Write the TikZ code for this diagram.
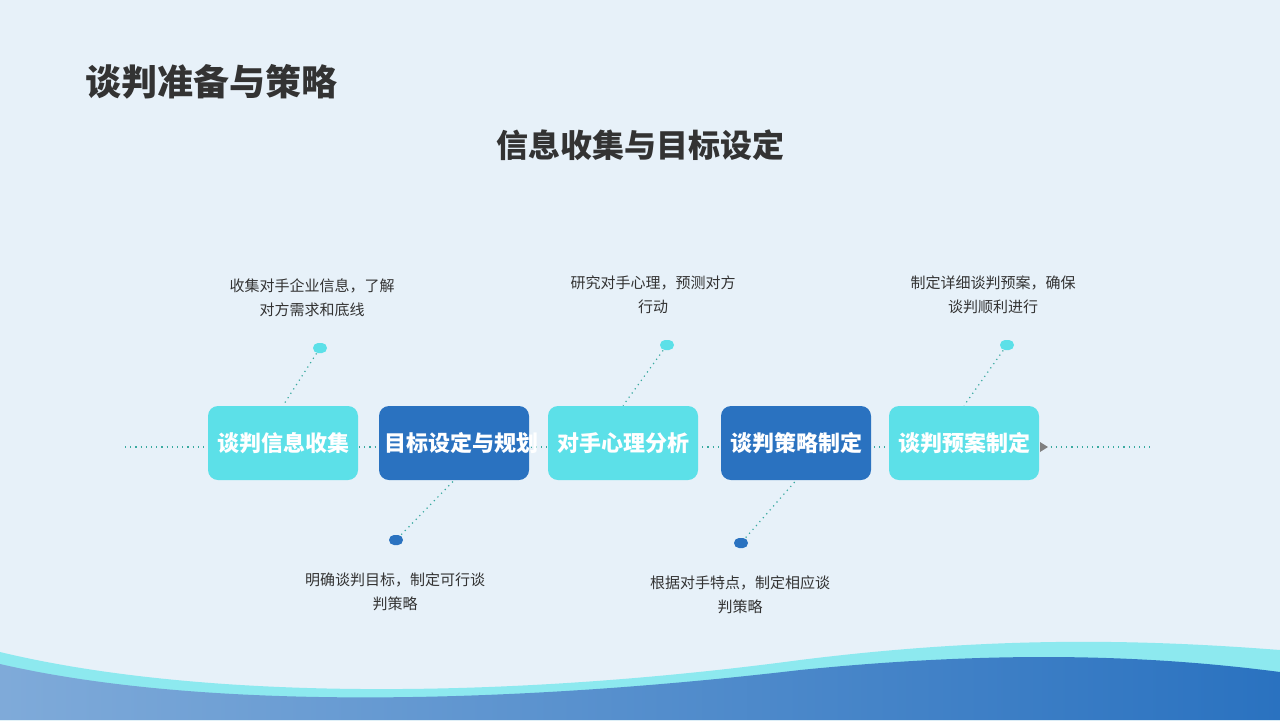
\documentclass[tikz,border=0pt]{standalone}
\usepackage{fontspec}
\newfontfamily\cjk{Noto Sans CJK SC}
\usetikzlibrary{arrows.meta}
\definecolor{bg}{HTML}{E7F1F9}
\definecolor{cyanb}{HTML}{5CE0E8}
\definecolor{blueb}{HTML}{2A72C0}
\definecolor{dotc}{HTML}{3AAAA0}
\definecolor{txt}{HTML}{333333}
\tikzset{
 box/.style={rounded corners=5pt,minimum width=75pt,minimum height=37pt,text width=70pt,align=center,font=\cjk\bfseries\fontsize{11}{12}\selectfont,text=white,inner sep=1pt},
 pill/.style={rounded corners=2.5pt,minimum width=7pt,minimum height=5pt,inner sep=0pt},
 desc/.style={font=\cjk\fontsize{7.5}{12}\selectfont,text=txt,align=center},
 dl/.style={dotted,draw=dotc,line width=0.6pt}
}
\begin{document}
\begin{tikzpicture}[x=0.5pt,y=-0.5pt]
\fill[bg] (0,0) rectangle (1280,720);
\useasboundingbox (0,0) rectangle (1280,720);
% waves
\fill[cyanb!70!white] (0,652) .. controls (200,700) and (500,700) .. (800,660) .. controls (1000,635) and (1150,640) .. (1280,650) -- (1280,720) -- (0,720) -- cycle;
\shade[left color=blueb!60!white,right color=blueb] (0,664) .. controls (200,710) and (500,705) .. (800,670) .. controls (1000,650) and (1150,655) .. (1280,672) -- (1280,720) -- (0,720) -- cycle;
% titles
\node[anchor=west,font=\cjk\bfseries\fontsize{18}{20}\selectfont,text=txt] (t) at (78,82) {谈判准备与策略};
\node[font=\cjk\bfseries\fontsize{16}{18}\selectfont,text=txt] (st) at (640,145) {信息收集与目标设定};
% axis
\coordinate (l0) at (125,447);
\coordinate (l1) at (1150,447);
\draw[dl] (l0) -- (l1);
\fill[gray] (1040,442) -- (1048,447) -- (1040,452) -- cycle;
% boxes
\node[box,fill=cyanb] (b1) at (283,443) {谈判信息收集};
\node[box,fill=blueb] (b2) at (454,443) {目标设定与规划};
\node[box,fill=cyanb] (b3) at (623,443) {对手心理分析};
\node[box,fill=blueb] (b4) at (796,443) {谈判策略制定};
\node[box,fill=cyanb] (b5) at (964,443) {谈判预案制定};
% pills
\node[pill,fill=cyanb] (p1) at (320,348) {};
\node[pill,fill=blueb] (p2) at (396,540) {};
\node[pill,fill=cyanb] (p3) at (667,345) {};
\node[pill,fill=blueb] (p4) at (741,543) {};
\node[pill,fill=cyanb] (p5) at (1007,345) {};
\draw[dl] (p1) -- (b1.north);
\draw[dl] (p2) -- (b2.south);
\draw[dl] (p3) -- (b3.north);
\draw[dl] (p4) -- (b4.south);
\draw[dl] (p5) -- (b5.north);
% descriptions
\node[desc] (d1) at (312,298) {收集对手企业信息，了解\\对方需求和底线};
\node[desc] (d2) at (395,592) {明确谈判目标，制定可行谈\\判策略};
\node[desc] (d3) at (653,295) {研究对手心理，预测对方\\行动};
\node[desc] (d4) at (740,595) {根据对手特点，制定相应谈\\判策略};
\node[desc] (d5) at (993,295) {制定详细谈判预案，确保\\谈判顺利进行};
\end{tikzpicture}
\end{document}
